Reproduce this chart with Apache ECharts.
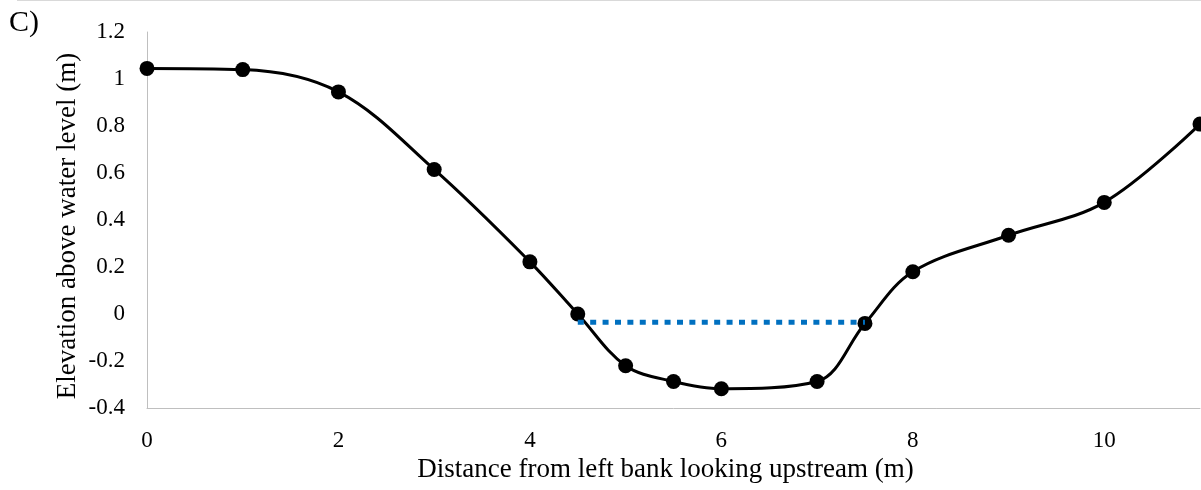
<!DOCTYPE html>
<html>
<head>
<meta charset="utf-8">
<script src="https://cdn.jsdelivr.net/npm/echarts@6/dist/echarts.min.js"></script>
<style>html,body{margin:0;padding:0;background:#fff}#c{width:1201px;height:490px}</style>
</head>
<body>
<div id="c"></div>
<script>
const distances = [0, 1, 2, 3, 4, 4.5, 5, 5.5, 6, 7, 7.5, 8, 9, 10, 11];
const elevations = [1.045, 1.04, 0.945, 0.615, 0.222, 0.0, -0.22, -0.287, -0.318, -0.287, -0.04, 0.18, 0.335, 0.475, 0.808];
const waterX = [4.5, 7.5];
const waterY = [-0.035, -0.035];
const yTicks = [-0.4, -0.2, 0, 0.2, 0.4, 0.6, 0.8, 1, 1.2];
const xTicks = [0, 2, 4, 6, 8, 10];

const font = 'Liberation Serif';
const chart = echarts.init(document.getElementById('c'), null, {renderer: 'canvas'});
chart.setOption({
  animation: false,
  grid: {left: 147, right: 1, top: 32, bottom: 82, containLabel: false, outerBoundsMode: 'none'},
  graphic: [
    {type: 'line', shape: {x1: 17, y1: 0.5, x2: 1201, y2: 0.5}, style: {stroke: '#d9d9d9', lineWidth: 1}},
    {type: 'text', left: 9, top: 8, style: {text: 'C)', font: '30px "Liberation Serif"', fill: '#000'}}
  ],
  xAxis: {
    type: 'value', min: 0, max: 11, interval: 2,
    name: 'Distance from left bank looking upstream (m)',
    nameLocation: 'middle', nameGap: 47,
    nameTextStyle: {fontFamily: font, fontSize: 27, color: '#000', padding: [0, 16, 0, 0]},
    axisLine: {show: true, onZero: false, lineStyle: {color: '#bfbfbf', width: 1}},
    axisTick: {show: false},
    splitLine: {show: false},
    axisLabel: {fontFamily: font, fontSize: 23, color: '#000', margin: 21, showMaxLabel: false,
      formatter: v => xTicks.includes(v) ? String(v) : ''}
  },
  yAxis: {
    type: 'value', min: -0.4, max: 1.2, interval: 0.2,
    name: 'Elevation above water level (m)',
    nameLocation: 'middle', nameGap: 66, nameMoveOverlap: false,
    nameTextStyle: {fontFamily: font, fontSize: 27, color: '#000', padding: [0, 12, 0, 0]},
    axisLine: {show: true, onZero: false, lineStyle: {color: '#bfbfbf', width: 1}},
    axisTick: {show: false},
    splitLine: {show: false},
    axisLabel: {fontFamily: font, fontSize: 23, color: '#000', margin: 22,
      formatter: v => { const t = yTicks.find(k => Math.abs(k - v) < 1e-9); return t === undefined ? '' : String(t); }}
  },
  series: [
    {
      type: 'line', data: distances.map((d, i) => [d, elevations[i]]),
      smooth: 0.35, symbol: 'circle', symbolSize: 15,
      lineStyle: {color: '#000', width: 3},
      itemStyle: {color: '#000'},
      z: 2
    },
    {
      type: 'line', data: waterX.map((d, i) => [d, waterY[i]]),
      symbol: 'none',
      lineStyle: {color: '#0070c0', width: 5, type: [6, 6.4]},
      z: 3
    }
  ]
});
</script>
</body>
</html>
